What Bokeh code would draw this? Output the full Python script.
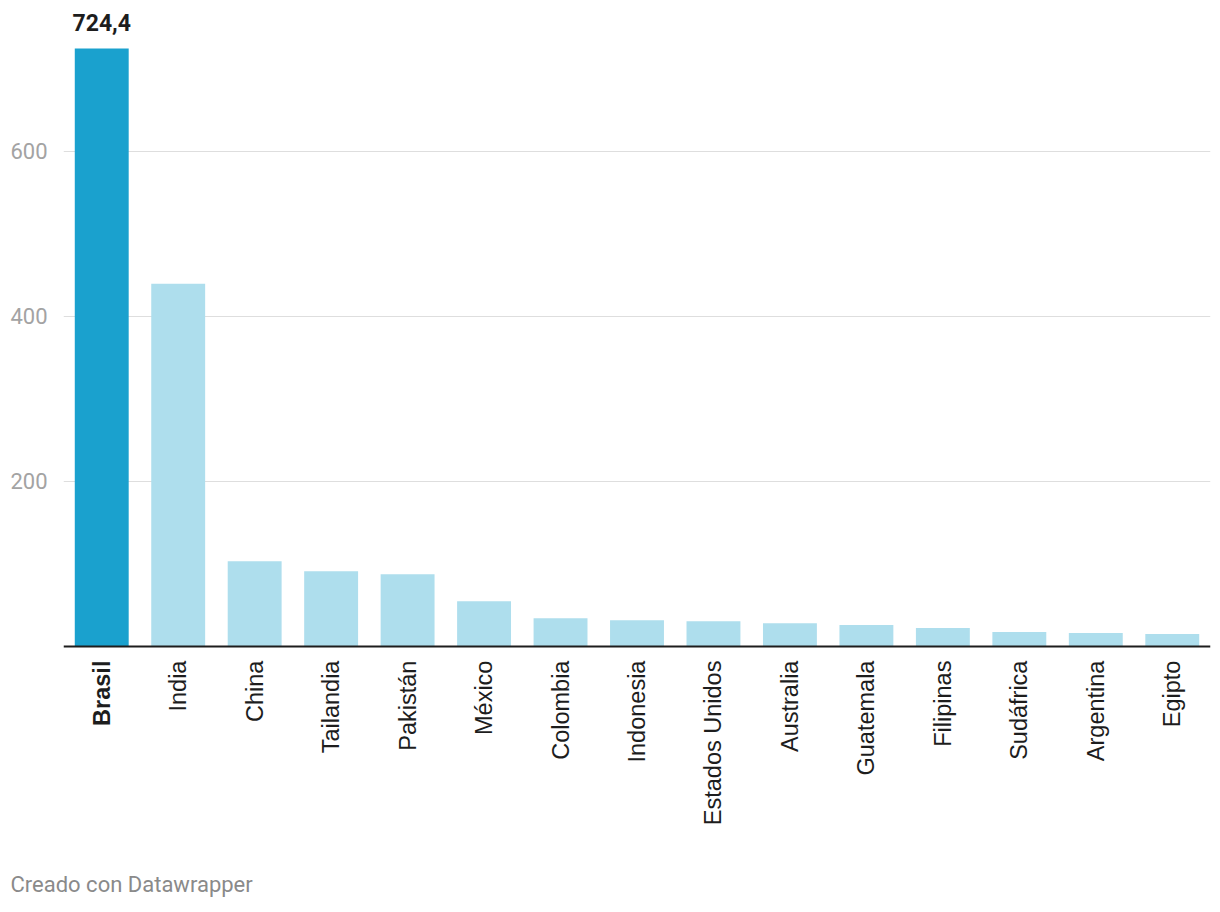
import math
from bokeh.plotting import figure
from bokeh.models import FactorRange, Range1d, FixedTicker, Span, Title, ColumnDataSource
from bokeh.core.properties import value
from bokeh.embed import file_html
from bokeh.resources import INLINE

countries = ["Brasil", "India", "China", "Tailandia", "Pakistán", "México", "Colombia",
             "Indonesia", "Estados Unidos", "Australia", "Guatemala", "Filipinas",
             "Sudáfrica", "Argentina", "Egipto"]
values = [724.4, 439.3, 103.3, 91.2, 87.6, 55.0, 34.4, 32.0, 30.8, 28.4, 26.0, 22.4, 17.5, 16.3, 15.1]
highlight = "Brasil"
y_ticks = [200, 400, 600]

HL = "#1aa1ce"
BASE = "#aedeed"

colors = [HL if c == highlight else BASE for c in countries]
weights = ["bold" if c == highlight else "normal" for c in countries]
src = ColumnDataSource(dict(x=countries, top=values, color=colors,
                            zero=[0] * len(countries), weight=weights))

p = figure(width=1220, height=912, x_range=FactorRange(*countries), y_range=Range1d(-270, 782.5),
           output_backend="svg", toolbar_location=None,
           min_border_left=63, min_border_right=10, min_border_top=0, min_border_bottom=0)
p.outline_line_color = None
p.background_fill_color = "white"
p.border_fill_color = "white"

p.vbar(x="x", top="top", width=0.705, color="color", source=src, line_color=None)

# y axis
p.yaxis.ticker = FixedTicker(ticks=y_ticks)
p.yaxis.axis_line_color = None
p.yaxis.major_tick_line_color = None
p.yaxis.minor_tick_line_color = None
p.yaxis.major_label_text_font = "Roboto"
p.yaxis.major_label_text_font_size = "22px"
p.yaxis.major_label_text_color = "#a3a3a3"
p.yaxis.major_label_standoff = 10

p.ygrid.ticker = FixedTicker(ticks=y_ticks)
p.ygrid.grid_line_color = "#dedede"
p.ygrid.grid_line_width = 1
p.xgrid.grid_line_color = None
p.xaxis.visible = False

# baseline
p.add_layout(Span(location=0, dimension="width", line_color="#1d1d1d", line_width=2))

# category labels
p.text(x="x", y="zero", text="x", source=src, y_offset=14, angle=math.pi / 2,
       text_align="right", text_baseline="middle",
       text_font=value("Liberation Sans"), text_font_style="weight",
       text_font_size="23.5px", text_color="#1d1d1d")

# value label for highlighted bar
hi = countries.index(highlight)
val_txt = f"{values[hi]:.1f}".replace(".", ",")
p.text(x=[highlight], y=[values[hi]], text=[val_txt], y_offset=-17,
       text_align="center", text_baseline="bottom",
       text_font=value("Roboto"), text_font_style="bold",
       text_font_size="23px", text_color="#1d1d1d")

# footer
p.add_layout(Title(text="Creado con Datawrapper", align="left", offset=-53, standoff=0,
                   text_font="Roboto", text_font_size="22px", text_font_style="normal",
                   text_color="#8a8a8a"), "below")
p.add_layout(Title(text=" ", standoff=0, text_font_size="12px"), "below")

open("out.html", "w").write(file_html(p, INLINE))
